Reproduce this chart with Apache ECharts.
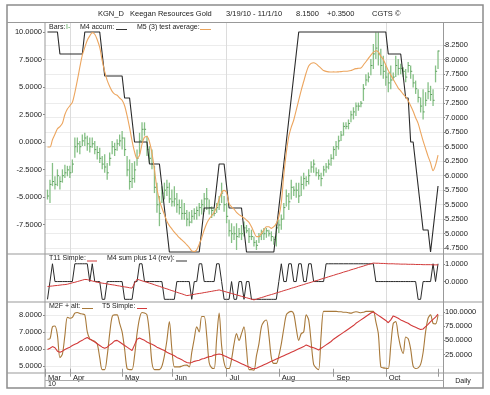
<!DOCTYPE html>
<html><head><meta charset="utf-8">
<script src="https://cdn.jsdelivr.net/npm/echarts@6/dist/echarts.min.js"></script>
<style>html,body{margin:0;padding:0;background:#fff}#c{width:490px;height:395px}</style>
</head><body><div id="c"></div>
<script>
// ---------- DATA ----------
const holidays = ['2010-04-02','2010-05-31','2010-07-05','2010-09-06'];
const monthLabels = ['Jan','Feb','Mar','Apr','May','Jun','Jul','Aug','Sep','Oct','Nov','Dec'];
const yearLabel = '10';
const leftTicksMain = [-7.5,-5,-2.5,0,2.5,5,7.5,10];
const rightTicksMain = [4.75,5,5.25,5.5,5.75,6,6.25,6.5,6.75,7,7.25,7.5,7.75,8,8.25];
const rightTicksP2 = [0,1];
const leftTicksP3 = [5,6,7,8];
const rightTicksP3 = [25,50,75,100];

const priceHigh = [5.76,5.93,6.22,5.99,6.11,5.99,6.11,6.19,6.17,6.17,
6.28,6.66,6.66,6.60,6.71,6.74,6.69,6.66,6.66,6.60,
6.51,6.48,6.34,6.37,6.22,6.40,6.60,6.57,6.63,6.71,
6.77,6.66,6.34,6.28,6.22,6.25,6.45,6.74,6.92,6.92,
6.69,6.51,6.45,6.17,5.88,5.65,5.82,5.88,5.93,5.88,
5.76,5.82,5.70,5.59,5.59,5.53,5.41,5.38,5.41,5.44,
5.47,5.53,5.59,5.70,5.79,5.59,5.47,5.44,5.53,5.65,
5.88,5.65,5.53,5.24,5.18,5.13,5.18,5.10,5.15,5.21,
5.15,5.10,5.07,4.95,4.89,5.01,5.07,5.10,5.10,5.07,
5.04,4.95,5.18,5.24,5.33,5.53,5.76,5.70,5.93,5.82,
5.88,5.88,5.99,6.05,5.99,6.11,6.25,6.28,6.14,6.11,
6.05,6.17,6.22,6.28,6.37,6.51,6.60,6.69,6.77,6.92,
6.92,6.97,7.12,7.18,7.26,7.26,7.29,7.58,7.75,7.78,
8.01,8.27,8.47,8.47,8.19,8.07,7.90,7.78,7.90,7.78,
8.07,8.01,7.93,7.87,7.84,7.96,7.90,7.75,7.64,7.49,
7.35,7.49,7.44,7.61,7.55,7.49,7.90,8.16];
const priceLow = [5.59,5.53,5.82,5.76,5.82,5.76,5.88,5.96,5.99,5.96,
6.05,6.31,6.40,6.37,6.51,6.51,6.43,6.40,6.48,6.37,
6.28,6.22,6.11,6.05,5.93,6.17,6.37,6.34,6.43,6.51,
6.45,6.34,5.99,5.76,5.79,5.88,6.17,6.37,6.57,6.69,
6.34,6.22,6.11,5.70,5.36,5.13,5.53,5.59,5.65,5.53,
5.47,5.47,5.36,5.33,5.24,5.24,5.13,5.13,5.18,5.24,
5.24,5.30,5.33,5.38,5.41,5.33,5.27,5.30,5.36,5.41,
5.53,5.38,5.18,4.95,4.84,4.89,4.72,4.93,4.89,4.95,
5.01,4.84,4.89,4.78,4.72,4.84,4.89,4.89,4.93,4.95,
4.87,4.81,4.78,5.01,5.07,5.24,5.47,5.41,5.59,5.65,
5.62,5.53,5.65,5.76,5.82,5.85,6.05,6.05,5.99,5.93,
5.82,5.99,6.05,6.11,6.17,6.28,6.34,6.45,6.60,6.69,
6.80,6.80,6.92,6.97,7.03,7.12,7.18,7.29,7.55,7.61,
7.73,7.84,8.01,7.90,7.73,7.67,7.55,7.44,7.49,7.64,
7.70,7.73,7.75,7.70,7.61,7.78,7.67,7.52,7.41,7.26,
7.09,6.97,7.20,7.32,7.29,7.20,7.61,7.84];
const priceClose = [5.65,5.85,5.9,5.85,6.0,5.9,6.0,6.05,6.1,6.05,
6.2,6.5,6.55,6.5,6.6,6.65,6.55,6.5,6.55,6.45,
6.4,6.3,6.2,6.15,6.05,6.3,6.5,6.45,6.55,6.6,
6.65,6.45,6.1,5.9,5.95,6.1,6.3,6.6,6.8,6.8,
6.45,6.3,6.2,5.8,5.5,5.35,5.7,5.75,5.8,5.6,
5.55,5.6,5.5,5.45,5.35,5.35,5.25,5.2,5.3,5.35,
5.4,5.45,5.5,5.6,5.6,5.45,5.4,5.35,5.45,5.5,
5.7,5.5,5.3,5.05,5.0,5.0,4.95,5.0,5.0,5.1,
5.05,4.95,4.95,4.85,4.8,4.95,5.0,5.0,5.05,5.0,
4.95,4.9,5.1,5.15,5.25,5.45,5.65,5.55,5.8,5.75,
5.75,5.65,5.85,5.95,5.9,6.0,6.15,6.2,6.05,6.0,
5.95,6.1,6.15,6.2,6.3,6.45,6.5,6.6,6.7,6.85,
6.85,6.9,7.05,7.1,7.2,7.2,7.25,7.5,7.65,7.7,
7.9,8.1,8.2,8.1,7.9,7.8,7.7,7.6,7.65,7.7,
7.9,7.85,7.85,7.8,7.7,7.9,7.8,7.6,7.5,7.35,
7.2,7.1,7.3,7.45,7.4,7.3,7.8,8.15];
const m4Accum = [10,10,10,10,10,8,8,8,8,8,
8,8,8,8,8,10,10,10,10,10,
10,10,8,6,6,6,6,6,6,6,
6,4,4,4,2,0,0,0,0,0,
0,-2,-2,-2,-2,-2,-4,-6,-8,-10,
-10,-10,-10,-10,-10,-10,-10,-10,-10,-10,
-10,-10,-8,-6,-6,-6,-6,-6,-4,-2,
-2,-2,-4,-6,-6,-6,-6,-6,-6,-8,
-10,-10,-10,-10,-10,-10,-10,-10,-10,-10,
-10,-10,-8,-6,-4,-2,0,2,4,6,
8,10,10,10,10,10,10,10,10,10,
10,10,10,10,10,10,10,10,10,10,
10,10,10,10,10,10,10,10,10,10,
10,10,10,10,10,10,10,8,8,8,
8,8,8,6,4,4,0,0,-2,-4,
-6,-8,-8,-8,-10,-8,-6,-4];
const m5Avg = [-0.45,-0.45,0.2,0.7,1.2,1.4,1.7,2.5,3.0,3.3,
3.6,4.5,5.6,6.8,7.9,8.6,9.25,9.65,9.94,9.8,
9.3,8.6,7.4,6.4,5.6,5.05,4.6,4.35,4.25,4.0,
3.8,3.3,2.4,1.3,0.1,-0.9,-1.5,-1.2,-0.2,0.45,
0.5,0.0,-1.0,-2.5,-4.2,-5.3,-6.0,-6.6,-7.2,-7.6,
-7.9,-8.2,-8.45,-8.7,-8.9,-9.1,-9.35,-9.6,-9.9,-9.95,
-9.8,-9.3,-8.7,-8.0,-7.4,-7.0,-6.7,-6.4,-5.9,-5.2,
-4.6,-4.4,-4.6,-5.6,-5.9,-6.1,-6.4,-6.6,-6.75,-6.9,
-7.1,-7.3,-7.7,-8.2,-8.6,-8.6,-8.3,-8.0,-7.7,-7.7,
-7.85,-7.7,-7.4,-6.8,-5.5,-3.0,-1.0,0.5,1.35,2.0,
2.9,3.8,4.7,5.5,6.3,6.9,7.15,7.2,7.1,6.9,
6.7,6.5,6.42,6.38,6.36,6.38,6.36,6.38,6.4,6.43,
6.43,6.45,6.5,6.6,6.67,6.7,6.72,7.0,7.3,7.6,
7.9,8.15,8.3,8.2,7.8,7.5,7.0,6.5,6.1,5.7,
5.3,4.9,4.65,4.35,4.1,3.75,3.3,2.8,2.2,1.7,
0.9,0.1,-0.6,-1.3,-1.9,-2.6,-2.1,-1.2];
const t11Simple = [-1,0,1,0,0,0,0,0,0,0,
0,1,1,1,1,1,1,0,1,0,
0,0,-1,-1,0,0,0,0,0,0,
0,-1,-1,-1,-1,0,0,1,1,0,
0,0,0,0,0,0,0,-1,-1,-1,
-1,-1,0,0,0,0,0,0,-1,0,
0,1,1,0,0,0,0,0,1,1,
0,-1,-1,-1,0,-1,-1,0,0,-1,
0,0,-1,-1,-1,-1,-1,-1,-1,-1,
-1,-1,-1,0,1,0,0,1,1,0,
0,1,1,0,0,1,1,0,0,0,
0,0,1,1,1,1,1,1,1,1,
1,1,1,1,1,1,1,1,1,1,
1,1,0,0,0,0,0,0,0,0,
0,0,0,0,0,0,0,0,0,-1,
-1,0,0,0,0,1,0,1];
const m4SumRev = [-0.28,-0.26,-0.25,-0.23,-0.22,-0.2,-0.18,-0.17,-0.15,-0.11,
-0.07,-0.04,0.0,0.04,0.08,0.12,0.11,0.07,0.03,0.0,
-0.04,-0.06,-0.09,-0.11,-0.13,-0.16,-0.18,-0.2,-0.23,-0.25,
-0.28,-0.3,-0.32,-0.35,-0.37,-0.1,0.13,0.09,0.04,0.0,
-0.04,-0.09,-0.13,-0.18,-0.23,-0.27,-0.32,-0.37,-0.41,-0.46,
-0.51,-0.55,-0.6,-0.65,-0.69,-0.74,-0.79,-0.77,-0.74,-0.72,
-0.69,-0.67,-0.65,-0.62,-0.6,-0.57,-0.55,-0.52,-0.5,-0.47,
-0.51,-0.55,-0.59,-0.63,-0.67,-0.71,-0.75,-0.79,-0.83,-0.87,
-0.91,-0.95,-0.99,-1.03,-0.99,-0.94,-0.9,-0.86,-0.81,-0.77,
-0.73,-0.69,-0.64,-0.6,-0.56,-0.51,-0.47,-0.43,-0.38,-0.34,
-0.3,-0.25,-0.21,-0.17,-0.12,-0.08,-0.04,0.01,0.05,0.09,
0.14,0.18,0.22,0.27,0.31,0.35,0.4,0.44,0.48,0.53,
0.57,0.61,0.66,0.7,0.74,0.79,0.83,0.87,0.92,0.96,
1.0,1.04,1.03,1.03,1.02,1.02,1.01,1.0,1.0,1.0,
0.99,0.99,0.98,0.98,0.98,0.97,0.97,0.97,0.96,0.96,
0.96,0.95,0.95,0.95,0.95,0.94,0.94,0.94];
const m2fAlt = [6.57,6.6,7.3,7.35,6.8,5.5,5.7,6.8,7.85,7.8,
7.85,8.1,8.14,8.08,8.05,8.0,7.0,6.6,6.5,6.45,
6.3,5.5,4.8,4.8,5.6,6.9,7.9,8.0,8.0,7.5,
7.0,6.0,4.85,4.8,4.8,5.6,6.9,7.8,8.14,8.1,
8.0,6.9,5.2,4.8,4.8,4.8,5.0,5.6,6.5,7.6,
6.0,4.96,4.96,4.96,5.0,5.05,5.06,4.96,5.8,6.6,
7.3,7.0,7.9,7.9,6.8,5.2,4.9,4.86,6.6,8.1,
6.2,5.2,4.86,4.86,5.4,6.3,6.9,6.5,6.9,7.3,
6.0,4.8,4.8,4.76,5.6,6.3,7.3,7.6,7.7,6.8,
5.5,5.16,5.16,5.6,6.3,7.2,8.0,8.15,8.2,8.05,
7.2,6.5,6.9,7.0,8.0,7.7,6.4,5.1,4.9,4.8,
6.8,8.2,8.2,8.2,8.2,8.2,8.2,8.18,8.18,8.15,
8.15,8.12,8.1,8.15,8.18,8.15,8.12,8.15,8.2,8.2,
8.2,8.2,7.6,6.9,4.96,4.9,4.88,4.86,6.2,7.5,
7.6,6.8,6.1,5.75,6.7,6.6,6.0,5.0,4.86,4.9,
5.1,5.8,7.0,7.8,8.0,7.5,7.47,8.0];
const t5Simple = [34,36,39,37,31,29,31,34,36,38,
41,43,45,48,50,53,55,52,50,47,
44,41,38,36,38,42,45,49,50,47,
44,41,38,35,32,42,52,54,52,50,
47,45,43,41,38,36,34,32,29,27,
25,23,20,18,16,13,11,10,11,13,
14,15,17,18,20,21,22,24,25,26,
25,23,21,19,17,15,13,11,9,7,
5,3,1,0,1,3,5,7,9,11,
13,15,17,19,21,23,25,27,29,31,
33,35,37,39,42,40,38,37,35,33,
36,39,42,45,48,52,55,58,61,64,
67,70,73,76,80,83,86,89,92,95,
98,100,97,94,91,88,85,81,86,93,
91,89,86,84,82,80,77,75,73,71,
69,70,74,78,83,87,91,96];

// ---------- trading-day categories ----------
function tradingDays(){
  const out=[]; const d=new Date(Date.UTC(2010,2,19)); const end=new Date(Date.UTC(2010,10,1));
  while(d<=end){const wd=d.getUTCDay(); const s=d.toISOString().slice(0,10);
    if(wd!==0&&wd!==6&&holidays.indexOf(s)<0) out.push(s); d.setUTCDate(d.getUTCDate()+1);}
  return out;
}
const days = tradingDays();
const cats = ['pad0'].concat(days, ['pad1','pad2']);
const labelAt = {0: monthLabels[2]};
const quarterLines = {};
for (let i=1;i<days.length;i++){
  const m=+days[i].slice(5,7), pm=+days[i-1].slice(5,7);
  if(m!==pm){ labelAt[i+1] = m===11 ? '' : monthLabels[m-1]; if(m===4||m===7||m===10) quarterLines[i+1]=true; }
}
const pair = arr => arr.map((v,i)=>[i+1,v]);
const ohlc = priceHigh.map((h,i)=>[i+1,h,priceLow[i],priceClose[i]]);

// ---------- CHART ----------
const FONT = "'Liberation Sans', Arial, sans-serif";
const chart = echarts.init(document.getElementById('c'), null, {renderer:'canvas'});
const L=45, R=47;
const grids = [
  {left:L, right:R, top:22, height:232},
  {left:L, right:R, top:254, height:48},
  {left:L, right:R, top:302, height:71}
];
function xAx(gi, showLabels){
  return {type:'category', gridIndex:gi, data:cats, boundaryGap:false,
    axisLine:{show:false},
    axisTick:{show:showLabels, interval:(i)=>labelAt.hasOwnProperty(i), length:8, lineStyle:{color:'#999',width:1}},
    axisLabel:{show:showLabels, interval:(i)=>labelAt.hasOwnProperty(i), formatter:(v,i)=>labelAt[i]||'',
      align:'left', padding:[0,0,0,3], margin:1, fontSize:7.5, fontFamily:FONT, color:'#222'},
    splitLine:{show:true, interval:(i)=>!!quarterLines[i], lineStyle:{color:'#dcdcdc',width:1}}
  };
}
const lab = (vals, m) => ({customValues:vals, formatter:v=>v.toFixed(4), fontSize:7.5, fontFamily:FONT, color:'#222', margin:m});
const tick = vals => ({show:true, customValues:vals, length:2, lineStyle:{color:'#888'}});
const option = {
  animation:false,
  backgroundColor:'#fff',
  grid: grids,
  xAxis:[xAx(0,false), xAx(1,false), xAx(2,true)],
  yAxis:[
    {type:'value', gridIndex:0, position:'left', min:-10.18, max:10.91,
      axisLine:{show:false}, axisTick:tick(leftTicksMain), axisLabel:lab(leftTicksMain,3), splitLine:{show:false}},
    {type:'value', gridIndex:0, position:'right', min:4.65, max:8.65, interval:0.05,
      axisLine:{show:false}, axisTick:tick(rightTicksMain), axisLabel:lab(rightTicksMain,2),
      splitLine:{show:true, lineStyle:{color:'#ececec',width:1}}},
    {type:'value', gridIndex:1, position:'right', min:-1.15, max:1.55,
      axisLine:{show:false}, axisTick:tick(rightTicksP2), axisLabel:lab(rightTicksP2,2), splitLine:{show:false}},
    {type:'value', gridIndex:2, position:'left', min:4.6, max:8.75, interval:0.2,
      axisLine:{show:false}, axisTick:tick(leftTicksP3), axisLabel:lab(leftTicksP3,3),
      splitLine:{show:true, lineStyle:{color:'#ececec',width:1}}},
    {type:'value', gridIndex:2, position:'right', min:-7.5, max:117.5,
      axisLine:{show:false}, axisTick:tick(rightTicksP3), axisLabel:lab(rightTicksP3,2), splitLine:{show:false}}
  ],
  series:[
    {type:'custom', name:'Bars', xAxisIndex:0, yAxisIndex:1, data:ohlc, encode:{x:0,y:[1,2,3]},
      renderItem:function(params, api){
        const k=api.value(0);
        const hi=api.coord([k,api.value(1)]), lo=api.coord([k,api.value(2)]), cl=api.coord([k,api.value(3)]);
        return {type:'group', children:[
          {type:'line', shape:{x1:hi[0],y1:hi[1],x2:lo[0],y2:lo[1]}, style:{stroke:'#86c086',lineWidth:1.3}},
          {type:'line', shape:{x1:cl[0],y1:cl[1],x2:cl[0]+1.6,y2:cl[1]}, style:{stroke:'#5e9e5e',lineWidth:1}}
        ]};
      }},
    {type:'line', name:'M4 accum', xAxisIndex:0, yAxisIndex:0, data:pair(m4Accum), showSymbol:false,
      lineStyle:{color:'#2a2a2a', width:1.1}},
    {type:'line', name:'M5 (3) test average', xAxisIndex:0, yAxisIndex:0, data:pair(m5Avg), showSymbol:false, smooth:0.3,
      lineStyle:{color:'#eca55e', width:1.1}},
    {type:'line', name:'T11 Simple', xAxisIndex:1, yAxisIndex:2, data:pair(t11Simple), showSymbol:false,
      lineStyle:{color:'#2a2a2a', width:1}},
    {type:'line', name:'M4 sum plus 14 (rev)', xAxisIndex:1, yAxisIndex:2, data:pair(m4SumRev), showSymbol:false,
      lineStyle:{color:'#d23a3a', width:1}},
    {type:'line', name:'M2F + alt', xAxisIndex:2, yAxisIndex:3, data:pair(m2fAlt), showSymbol:false, smooth:0.3,
      lineStyle:{color:'#a8793a', width:1.1}},
    {type:'line', name:'T5 Simple', xAxisIndex:2, yAxisIndex:4, data:pair(t5Simple), showSymbol:false,
      lineStyle:{color:'#d23a3a', width:1.1}}
  ],
  graphic:[]
};
// frame & texts
const G = option.graphic;
const ln = (x1,y1,x2,y2,c,w)=>G.push({type:'line', silent:true, z:100, shape:{x1,y1,x2,y2}, style:{stroke:c||'#999', lineWidth:w||1}});
const tx = (t,x,y,opt)=>G.push(Object.assign({type:'text', silent:true, z:101, style:Object.assign({text:t, x, y, fill:'#222', font:'7.5px '+FONT, verticalAlign:'middle', align:'left'}, opt||{})}));
G.push({type:'rect', silent:true, z:100, shape:{x:7,y:5,width:476,height:383}, style:{fill:'none', stroke:'#8c8c8c', lineWidth:1.5}});
ln(7,22.5,483,22.5); ln(7,254,483,254); ln(7,302,483,302); ln(7,373,483,373);
ln(45,22.5,45,388); ln(443.5,22.5,443.5,388); ln(45,380.5,443.5,380.5,'#aaa');
tx('KGN_D',98,14); tx('Keegan Resources Gold',130,14); tx('3/19/10 - 11/1/10',226,14);
tx('8.1500',296,14); tx('+0.3500',327,14); tx('CGTS \u00a9',372,14);
tx('Bars:',49,27,{font:'7px '+FONT}); tx('I-',66,27,{font:'7px '+FONT, fill:'#4f9f4f'});
tx('M4 accum:',80,27,{font:'7px '+FONT}); ln(116,29.5,127,29.5,'#333');
tx('M5 (3) test average:',137,27,{font:'7px '+FONT}); ln(200,29.5,211,29.5,'#eba45c');
tx('T11 Simple:',49,258.5,{font:'7px '+FONT}); ln(87,261,97,261,'#d23a3a');
tx('M4 sum plus 14 (rev):',107,258.5,{font:'7px '+FONT}); ln(176,261,187,261,'#333');
tx('M2F + alt:',49,306,{font:'7px '+FONT}); ln(82,308.5,93,308.5,'#a8793a');
tx('T5 Simple:',102,306,{font:'7px '+FONT}); ln(137,308.5,147,308.5,'#d23a3a');
tx(yearLabel,48,384.5,{font:'7px '+FONT});
tx('Daily',463,381,{font:'7px '+FONT, align:'center'});
chart.setOption(option);
</script></body></html>
